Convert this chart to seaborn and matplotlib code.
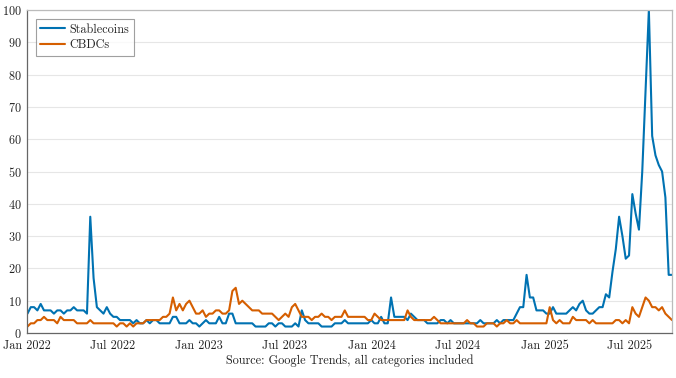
import numpy as np
import pandas as pd
import matplotlib
matplotlib.use("Agg")
import matplotlib.pyplot as plt
import seaborn as sns

start_date = "2022-01-02"
series_names = ["Stablecoins", "CBDCs"]

stablecoins = [
    6, 8, 8, 7, 9, 7, 7, 7, 6, 7,
    7, 6, 7, 7, 8, 7, 7, 7, 6, 36,
    17, 8, 7, 6, 8, 6, 5, 5, 4, 4,
    4, 4, 3, 4, 3, 3, 4, 3, 4, 4,
    3, 3, 3, 3, 5, 5, 3, 3, 3, 4,
    3, 3, 2, 3, 4, 3, 3, 3, 5, 3,
    3, 6, 6, 3, 3, 3, 3, 3, 3, 2,
    2, 2, 2, 3, 3, 2, 3, 3, 2, 2,
    2, 3, 2, 7, 4, 3, 3, 3, 3, 2,
    2, 2, 2, 3, 3, 3, 4, 3, 3, 3,
    3, 3, 3, 3, 4, 3, 3, 5, 3, 3,
    11, 5, 5, 5, 5, 4, 6, 5, 4, 4,
    4, 3, 3, 3, 3, 4, 4, 3, 4, 3,
    3, 3, 3, 3, 3, 3, 3, 4, 3, 3,
    3, 3, 4, 3, 4, 4, 4, 4, 6, 8,
    8, 18, 11, 11, 7, 7, 7, 6, 6, 8,
    6, 6, 6, 6, 7, 8, 7, 9, 10, 7,
    6, 6, 7, 8, 8, 12, 11, 19, 26, 36,
    30, 23, 24, 43, 37, 32, 50, 75, 100, 61,
    55, 52, 50, 42, 18, 18,
]

cbdcs = [
    2, 3, 3, 4, 4, 5, 4, 4, 4, 3,
    5, 4, 4, 4, 4, 3, 3, 3, 3, 4,
    3, 3, 3, 3, 3, 3, 3, 2, 3, 3,
    2, 3, 2, 3, 3, 3, 4, 4, 4, 4,
    4, 5, 5, 6, 11, 7, 9, 7, 9, 10,
    8, 6, 6, 7, 5, 6, 6, 7, 7, 6,
    6, 7, 13, 14, 9, 10, 9, 8, 7, 7,
    7, 6, 6, 6, 6, 5, 4, 5, 6, 5,
    8, 9, 7, 5, 5, 5, 4, 5, 5, 6,
    5, 5, 4, 5, 5, 5, 7, 5, 5, 5,
    5, 5, 5, 4, 4, 6, 5, 4, 4, 4,
    4, 4, 4, 4, 4, 7, 5, 4, 4, 4,
    4, 4, 4, 5, 4, 3, 3, 3, 3, 3,
    3, 3, 3, 4, 3, 3, 2, 2, 2, 3,
    3, 3, 2, 3, 3, 4, 3, 3, 4, 3,
    3, 3, 3, 3, 3, 3, 3, 3, 8, 4,
    3, 4, 3, 3, 3, 5, 4, 4, 4, 4,
    3, 4, 3, 3, 3, 3, 3, 3, 4, 4,
    3, 4, 3, 8, 6, 5, 8, 11, 10, 8,
    8, 7, 8, 6, 5, 4,
]

y_ticks = list(range(0, 101, 10))
x_tick_dates = ["2022-01-01", "2022-07-01", "2023-01-01", "2023-07-01",
                "2024-01-01", "2024-07-01", "2025-01-01", "2025-07-01"]
x_tick_labels = ["Jan 2022", "Jul 2022", "Jan 2023", "Jul 2023",
                 "Jan 2024", "Jul 2024", "Jan 2025", "Jul 2025"]
x_label = "Source: Google Trends, all categories included"

dates = pd.date_range(start_date, periods=len(stablecoins), freq="7D")
df = pd.DataFrame({
    "date": np.concatenate([dates, dates]),
    "value": stablecoins + cbdcs,
    "series": [series_names[0]] * len(stablecoins) + [series_names[1]] * len(cbdcs),
})

sns.set_theme(style="white")
plt.rcParams["font.family"] = ["cmr10", "DejaVu Serif"]
plt.rcParams["axes.formatter.use_mathtext"] = True
plt.rcParams["mathtext.fontset"] = "cm"

FS = 8.8
fig = plt.figure(figsize=(6.76, 3.78), dpi=100)
ax = fig.add_axes([27 / 676, 1 - 333 / 378, 645 / 676, 323 / 378])

sns.lineplot(data=df, x="date", y="value", hue="series",
             palette={"Stablecoins": "#0072B2", "CBDCs": "#D55E00"},
             linewidth=1.5, ax=ax)

ax.set_ylim(0, 100)
ax.set_yticks(y_ticks)
ax.set_xlim(pd.Timestamp("2022-01-01"), dates[-1])
ax.set_xticks([pd.Timestamp(d) for d in x_tick_dates])
ax.set_xticklabels(x_tick_labels)
ax.tick_params(axis="both", length=0, labelsize=FS, colors="#222222")
ax.tick_params(axis="y", pad=4)
ax.tick_params(axis="x", pad=5)
ax.yaxis.grid(True, color="#e6e6e6", linewidth=0.8)
ax.xaxis.grid(False)
for side in ["left", "bottom"]:
    ax.spines[side].set_color("#666666")
    ax.spines[side].set_linewidth(0.9)
for side in ["top", "right"]:
    ax.spines[side].set_color("#bbbbbb")
    ax.spines[side].set_linewidth(0.9)

ax.set_ylabel("")
ax.set_xlabel(x_label, fontsize=FS, color="#222222", labelpad=2)

leg = ax.legend(loc="upper left", fontsize=FS, frameon=True, fancybox=False,
                edgecolor="#888888", handlelength=2.0, borderaxespad=0.7,
                borderpad=0.4, labelspacing=0.3, handletextpad=0.35)
leg.get_frame().set_linewidth(0.8)
leg.set_title(None)

fig.savefig("out.png", dpi=100)
